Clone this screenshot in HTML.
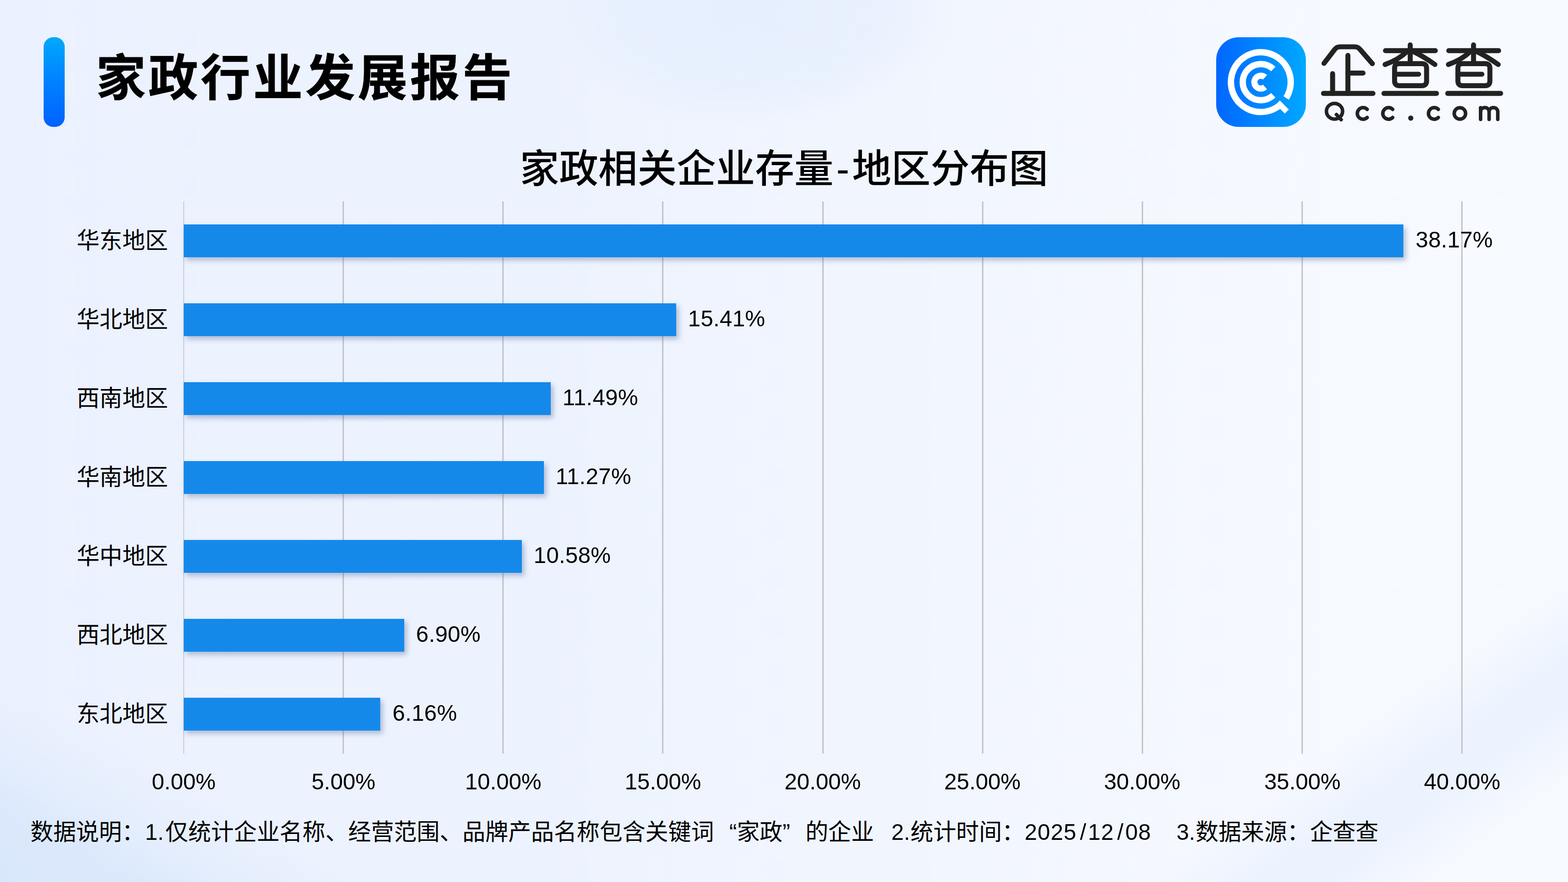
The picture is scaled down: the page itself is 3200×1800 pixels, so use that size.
<!DOCTYPE html>
<html lang="zh-CN"><head><meta charset="utf-8"><title>家政行业发展报告</title><style>
html,body{margin:0;padding:0;}
body{width:3200px;height:1800px;overflow:hidden;font-family:"Liberation Sans","Noto Sans CJK SC",sans-serif;color:#000;}
.page{position:relative;width:3200px;height:1800px;overflow:hidden;
background:
 linear-gradient(29deg, rgba(217,231,252,1) 0%, rgba(219,232,252,.95) 4.5%, rgba(222,234,252,.5) 7.5%, rgba(226,236,252,0) 11.5%),
 linear-gradient(324deg, rgba(230,239,253,0) 5%, rgba(230,239,253,.65) 9%, rgba(230,239,253,.65) 11%, rgba(230,239,253,0) 15%),
 radial-gradient(ellipse 420px 235px at 1530px 20px, rgba(226,237,254,.66) 0%, rgba(226,237,254,.55) 60%, rgba(225,237,254,0) 100%),
 linear-gradient(90deg,#ebf1fe 0%,#edf3fe 35%,#f2f6fe 62%,#f6f9ff 85%,#f7faff 100%);}
.abs{position:absolute;}
svg{position:absolute;left:0;top:0;overflow:visible;}
.t{position:absolute;margin:0;padding:0;color:#000;font-weight:400;white-space:nowrap;font-family:"Liberation Sans","Noto Sans CJK SC",sans-serif;}
.title{left:196px;top:105px;font-size:101.5px;line-height:110px;letter-spacing:5.3px;font-weight:700;-webkit-text-stroke:0.7px #000;}
/* brand wordmark is drawn by the logo svg; keep its DOM text transparent */
.brand{left:2698px;top:80px;font-size:110px;line-height:120px;color:transparent;}
.brand small{position:absolute;left:6px;top:136px;font-size:50px;line-height:50px;letter-spacing:25px;}
.ctitle{left:1061px;top:301px;font-size:80px;line-height:88px;font-weight:500;}
.ctitle .hy{margin:0 5.7px;}
.cat{left:100px;width:243px;text-align:right;font-size:46.67px;line-height:52px;}
.accent{left:89px;top:76px;width:43px;height:183px;border-radius:19.5px;background:linear-gradient(180deg,#00a8fc 0%,#0081ff 50%,#0061ff 100%);}
.grid{top:411px;width:3px;height:1127px;background:#c4c6cb;}
.axis{top:411px;width:2px;height:1127px;background:#cdced6;}
.bar{height:67px;background:#1589ea;box-shadow:5px 6px 10px rgba(70,95,150,.38);}
.val{will-change:transform;font-size:46px;line-height:46px;white-space:nowrap;letter-spacing:0.3px;}
.tick{will-change:transform;font-size:46px;line-height:46px;width:300px;text-align:center;white-space:nowrap;top:1572px;}
.note span{position:absolute;top:1675.4px;font-size:46px;line-height:46px;white-space:nowrap;}
.note .n{will-change:transform;}
.note .d{letter-spacing:1px;}
.note .d i{font-style:normal;margin:0 2.6px 0 6.6px;}
.note .c{color:#000;font-size:46.67px;}
.note .c .q{position:static;display:inline-block;width:46.67px;font-size:46.67px;line-height:46px;}
.note .c .ql{text-align:right;}
.note .c .qr{text-align:left;}
</style></head><body><div class="page">
<header>
<div class="abs accent"></div>
<h1 class="t title">家政行业发展报告</h1>
<div class="t brand">企查查<small>Qcc.com</small></div>
<svg class="logo" width="3200" height="1800" aria-hidden="true"><defs><linearGradient id="lg" x1="0" y1="0" x2="1" y2="0"><stop offset="0" stop-color="#0066ff"/><stop offset="1" stop-color="#00a8ff"/></linearGradient></defs><rect x="2482" y="76" width="183" height="183" rx="46" ry="46" fill="url(#lg)"/><g fill="none" stroke="#fff"><path d="M2616.23 210.73A61 61 0 1 1 2624.83 199.93" stroke-width="13"/><path d="M2598.50 194.37A36.9 36.9 0 1 1 2598.50 140.83" stroke-width="12.9"/><path d="M2581.76 177.56A13.2 13.2 0 1 1 2581.76 157.64" stroke-width="12.5"/><path d="M2607.82 209.25L2626.20 227.63" stroke-width="11.7"/></g><g fill="none" stroke="#222" stroke-width="10.2" stroke-linecap="round" stroke-linejoin="round"><path d="M 2702.0 129.3 L 2724.3 100.4 Q 2728.1 95.5 2734.7 95.5 L 2764.6 95.5 Q 2771.3 95.5 2775.2 100.4 L 2800.7 129.8"/><path d="M 2750.8 113.2 V 190.7"/><path d="M 2750.8 149.2 H 2781.7"/><path d="M 2719.6 150.4 V 190.7"/><path d="M 2701.0 190.7 H 2801.9"/><path d="M 2827.5 103.4 H 2929.2"/><path d="M 2878.0 91.7 V 129.8"/><path d="M 2871.3 105.4 Q 2853.9 122.0 2826.7 131.6"/><path d="M 2884.7 105.4 Q 2903.6 114.3 2928.4 131.6"/><path d="M 2855.8 129.8 H 2901.7 Q 2911.4 129.8 2911.4 139.4 V 165.2 Q 2911.4 174.8 2901.7 174.8 H 2855.8 Q 2846.1 174.8 2846.1 165.2 V 139.4 Q 2846.1 129.8 2855.8 129.8"/><path d="M 2846.1 151.5 H 2895.1"/><path d="M 2824.4 190.7 H 2931.6"/><path d="M 2956.7 103.4 H 3058.4"/><path d="M 3007.2 91.7 V 129.8"/><path d="M 3000.5 105.4 Q 2983.1 122.0 2955.9 131.6"/><path d="M 3013.9 105.4 Q 3032.8 114.3 3057.6 131.6"/><path d="M 2985.0 129.8 H 3030.9 Q 3040.6 129.8 3040.6 139.4 V 165.2 Q 3040.6 174.8 3030.9 174.8 H 2985.0 Q 2975.3 174.8 2975.3 165.2 V 139.4 Q 2975.3 129.8 2985.0 129.8"/><path d="M 2975.3 151.5 H 3024.3"/><path d="M 2954.5 190.7 H 3062.5"/></g><g fill="none" stroke="#222" stroke-width="7.2" stroke-linecap="round" stroke-linejoin="round"><path d="M 2727.4 233.8 L 2737.1 244.2"/><path d="M 2790.1 239.9 A 11.8 11.8 0 1 1 2790.1 223.1"/><path d="M 2842.1 239.9 A 11.8 11.8 0 1 1 2842.1 223.1"/><path d="M 2935.3 239.9 A 11.8 11.8 0 1 1 2935.3 223.1"/><path d="M 3021.6 219.8 V 243.6 M 3021.6 228.7 C 3021.6 223.1 3025.3 219.7 3030.3 219.7 C 3035.6 219.7 3039.0 223.1 3039.0 228.7 V 243.6 M 3039.0 228.7 C 3039.0 223.1 3042.9 219.7 3047.9 219.7 C 3053.1 219.7 3056.7 223.1 3056.7 228.7 V 243.6"/></g><circle cx="2879.1" cy="241.1" r="5.3" fill="#222"/><ellipse cx="2723.5" cy="227.1" rx="16.5" ry="16.0" fill="none" stroke="#222" stroke-width="7.2"/><circle cx="2979.4" cy="231.5" r="11.6" fill="none" stroke="#222" stroke-width="7.2"/></svg>
</header>
<main>
<h2 class="t ctitle">家政相关企业存量<span class="hy">-</span>地区分布图</h2>
<div class="abs axis" style="left:374px"></div>
<div class="abs grid" style="left:699px"></div>
<div class="abs grid" style="left:1025px"></div>
<div class="abs grid" style="left:1351px"></div>
<div class="abs grid" style="left:1678px"></div>
<div class="abs grid" style="left:2004px"></div>
<div class="abs grid" style="left:2330px"></div>
<div class="abs grid" style="left:2656px"></div>
<div class="abs grid" style="left:2982px"></div>
<div class="t cat" style="top:464.5px">华东地区</div>
<div class="abs bar" style="left:375px;top:458.0px;width:2489.3px"></div>
<div class="abs val" style="left:2888.6px;top:466.0px">38.17%</div>
<div class="t cat" style="top:625.5px">华北地区</div>
<div class="abs bar" style="left:375px;top:619.0px;width:1004.7px"></div>
<div class="abs val" style="left:1404.0px;top:627.0px">15.41%</div>
<div class="t cat" style="top:786.5px">西南地区</div>
<div class="abs bar" style="left:375px;top:780.0px;width:749.0px"></div>
<div class="abs val" style="left:1148.3px;top:788.0px">11.49%</div>
<div class="t cat" style="top:947.5px">华南地区</div>
<div class="abs bar" style="left:375px;top:941.0px;width:734.6px"></div>
<div class="abs val" style="left:1133.9px;top:949.0px">11.27%</div>
<div class="t cat" style="top:1108.5px">华中地区</div>
<div class="abs bar" style="left:375px;top:1102.0px;width:689.6px"></div>
<div class="abs val" style="left:1088.9px;top:1110.0px">10.58%</div>
<div class="t cat" style="top:1269.5px">西北地区</div>
<div class="abs bar" style="left:375px;top:1263.0px;width:449.6px"></div>
<div class="abs val" style="left:848.9px;top:1271.0px">6.90%</div>
<div class="t cat" style="top:1430.5px">东北地区</div>
<div class="abs bar" style="left:375px;top:1424.0px;width:401.3px"></div>
<div class="abs val" style="left:800.6px;top:1432.0px">6.16%</div>
<div class="abs tick" style="left:224.5px">0.00%</div>
<div class="abs tick" style="left:550.6px">5.00%</div>
<div class="abs tick" style="left:876.8px">10.00%</div>
<div class="abs tick" style="left:1202.9px">15.00%</div>
<div class="abs tick" style="left:1529.1px">20.00%</div>
<div class="abs tick" style="left:1855.2px">25.00%</div>
<div class="abs tick" style="left:2181.4px">30.00%</div>
<div class="abs tick" style="left:2507.5px">35.00%</div>
<div class="abs tick" style="left:2833.7px">40.00%</div>
</main>
<footer class="note">
<span class="c" style="left:62.0px">数据说明：</span>
<span class="n" style="left:295.8px">1.</span>
<span class="c" style="left:337.3px">仅统计企业名称、经营范围、品牌产品名称包含关键词<span class="q ql">“</span>家政<span class="q qr">”</span>的企业</span>
<span class="n" style="left:1819px">2.</span>
<span class="c" style="left:1858.0px">统计时间：</span>
<span class="n d" style="left:2091.1px">2025<i>/</i>12<i>/</i>08</span>
<span class="n" style="left:2401px">3.</span>
<span class="c" style="left:2440.0px">数据来源：企查查</span>
</footer>
</div></body></html>
